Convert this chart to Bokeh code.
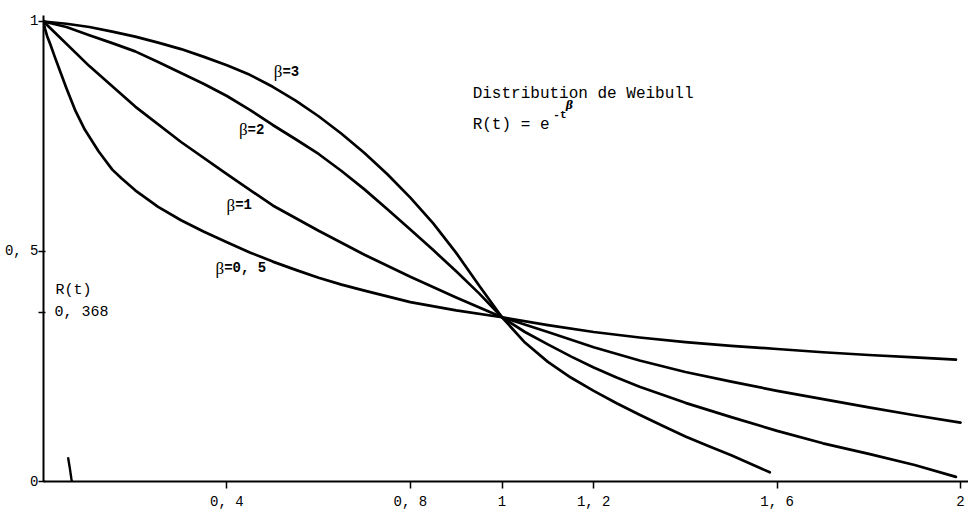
from bokeh.plotting import figure
from bokeh.models import Range1d, FixedTicker, Label
from bokeh.embed import file_html
from bokeh.resources import INLINE

# ---- data ----
beta05_t = [0, 0.003, 0.008, 0.015, 0.025, 0.035, 0.05, 0.07, 0.09, 0.12, 0.15, 0.17, 0.2, 0.25,
            0.3, 0.35, 0.4, 0.45, 0.5, 0.55, 0.6, 0.65, 0.7, 0.8, 0.9, 1.0, 1.1, 1.2, 1.3, 1.4,
            1.5, 1.6, 1.7, 1.8, 1.9, 1.99]
beta05_r = [1.0, 0.985, 0.968, 0.95, 0.922, 0.895, 0.855, 0.805, 0.765, 0.718, 0.678, 0.659, 0.633, 0.597,
            0.568, 0.543, 0.52, 0.498, 0.478, 0.46, 0.443, 0.428, 0.415, 0.39, 0.372, 0.357, 0.34, 0.325,
            0.313, 0.303, 0.295, 0.288, 0.281, 0.275, 0.27, 0.265]

beta1_t = [0, 0.1, 0.2, 0.3, 0.4, 0.5, 0.6, 0.7, 0.8, 0.9, 1.0, 1.1, 1.2, 1.3, 1.4, 1.5,
           1.6, 1.7, 1.8, 1.9, 2.0]
beta1_r = [1.0, 0.903, 0.815, 0.738, 0.668, 0.600, 0.545, 0.493, 0.445, 0.400, 0.357, 0.325, 0.292,
           0.263, 0.238, 0.217, 0.197, 0.179, 0.161, 0.144, 0.128]

beta2_t = [0, 0.05, 0.1, 0.15, 0.2, 0.25, 0.3, 0.35, 0.4, 0.45, 0.5, 0.55, 0.6, 0.65, 0.7, 0.75,
           0.8, 0.85, 0.9, 0.95, 1.0, 1.05, 1.1, 1.15, 1.2, 1.25, 1.3, 1.4, 1.5, 1.6, 1.7, 1.8, 1.9, 1.99]
beta2_r = [1.0, 0.988, 0.97, 0.953, 0.935, 0.912, 0.888, 0.864, 0.838, 0.808, 0.775, 0.744, 0.712, 0.675,
           0.635, 0.592, 0.548, 0.503, 0.457, 0.409, 0.357, 0.325, 0.298, 0.272, 0.248, 0.226, 0.206,
           0.171, 0.14, 0.11, 0.083, 0.06, 0.036, 0.01]

beta3_t = [0, 0.05, 0.1, 0.15, 0.2, 0.25, 0.3, 0.35, 0.4, 0.45, 0.5, 0.55, 0.6, 0.65, 0.7, 0.75,
           0.8, 0.85, 0.9, 0.95, 1.0, 1.05, 1.1, 1.15, 1.2, 1.25, 1.3, 1.35, 1.4, 1.45, 1.5, 1.584]
beta3_r = [1.0, 0.995, 0.988, 0.978, 0.967, 0.954, 0.94, 0.923, 0.905, 0.884, 0.858, 0.828, 0.794, 0.756,
           0.714, 0.668, 0.617, 0.561, 0.497, 0.426, 0.357, 0.302, 0.26, 0.226, 0.197, 0.17, 0.145,
           0.121, 0.098, 0.077, 0.057, 0.02]

# stray pen stroke near the origin (scan mark)
mark_t = [0.0535, 0.0571, 0.0608, 0.0619]
mark_r = [0.0528, 0.0311, 0.0059, 0.0]

x_ticks = [0.4, 0.8, 1, 1.2, 1.6, 2]
x_tick_labels = ["0, 4", "0, 8", "1", "1, 2", "1, 6", "2"]
y_ticks = [0, 0.368, 0.5, 1]
y_tick_labels = ["0", "", "0, 5", "1"]

MONO = "Liberation Mono"

p = figure(width=968, height=514, output_backend="svg", toolbar_location=None,
           x_range=Range1d(0, 2.0174), y_range=Range1d(0, 1.013),
           min_border_left=43, min_border_right=0, min_border_top=15, min_border_bottom=33)
p.outline_line_color = None
p.grid.visible = False
p.background_fill_color = "white"
p.border_fill_color = "white"

for xs, ys in [(beta05_t, beta05_r), (beta1_t, beta1_r), (beta2_t, beta2_r), (beta3_t, beta3_r)]:
    p.line(xs, ys, line_color="black", line_width=2.7, line_join="round", line_cap="round")

p.line(mark_t, mark_r, line_color="black", line_width=2.4)

# axes
xa = p.xaxis[0]
xa.ticker = FixedTicker(ticks=x_ticks)
xa.major_label_overrides = {k: v for k, v in zip(x_ticks, x_tick_labels)}
xa.axis_line_width = 2
xa.major_tick_out = 7
xa.major_tick_in = 0
xa.major_tick_line_width = 1.5
xa.minor_tick_line_color = None
xa.major_label_standoff = 5
xa.major_label_text_font = MONO
xa.major_label_text_font_size = "14px"
xa.major_label_text_color = "black"

ya = p.yaxis[0]
ya.ticker = FixedTicker(ticks=y_ticks)
ya.major_label_overrides = {k: v for k, v in zip(y_ticks, y_tick_labels)}
ya.axis_line_width = 2
ya.major_tick_out = 5
ya.major_tick_in = 2
ya.major_tick_line_width = 1.5
ya.minor_tick_line_color = None
ya.major_label_standoff = 0
ya.major_label_text_font = MONO
ya.major_label_text_font_size = "14px"
ya.major_label_text_color = "black"

def lab(x, y, text, font=MONO, size="14px", style="normal", align="left"):
    p.add_layout(Label(x=x, y=y, text=text, text_font=font, text_font_size=size,
                       text_font_style=style, text_align=align, text_baseline="middle",
                       text_color="black"))

# curve labels: beta sign then "=value"
curve_labels = [("=3", 0.521, 0.891), ("=2", 0.445, 0.765), ("=1", 0.418, 0.600), ("=0, 5", 0.394, 0.464)]
for txt, x, y in curve_labels:
    lab(x, y, "β", font="Liberation Serif", size="17px", align="right")
    lab(x, y, txt, size="14px", style="bold", align="left")

# title and formula
lab(0.936, 0.842, "Distribution de Weibull", size="16px")
lab(0.936, 0.776, "R(t) = e", size="16px")
lab(1.112, 0.797, "-t", size="11px", style="bold")
lab(1.139, 0.818, "β", font="DejaVu Serif", size="11px", style="bold italic")

# y-axis annotations
lab(0.026, 0.415, "R(t)", size="15px")
lab(0.024, 0.367, "0, 368", size="15px")

# x-axis name
lab(1.821, -0.0435, "t", size="14px", align="center")

open("out.html", "w").write(file_html(p, INLINE))
